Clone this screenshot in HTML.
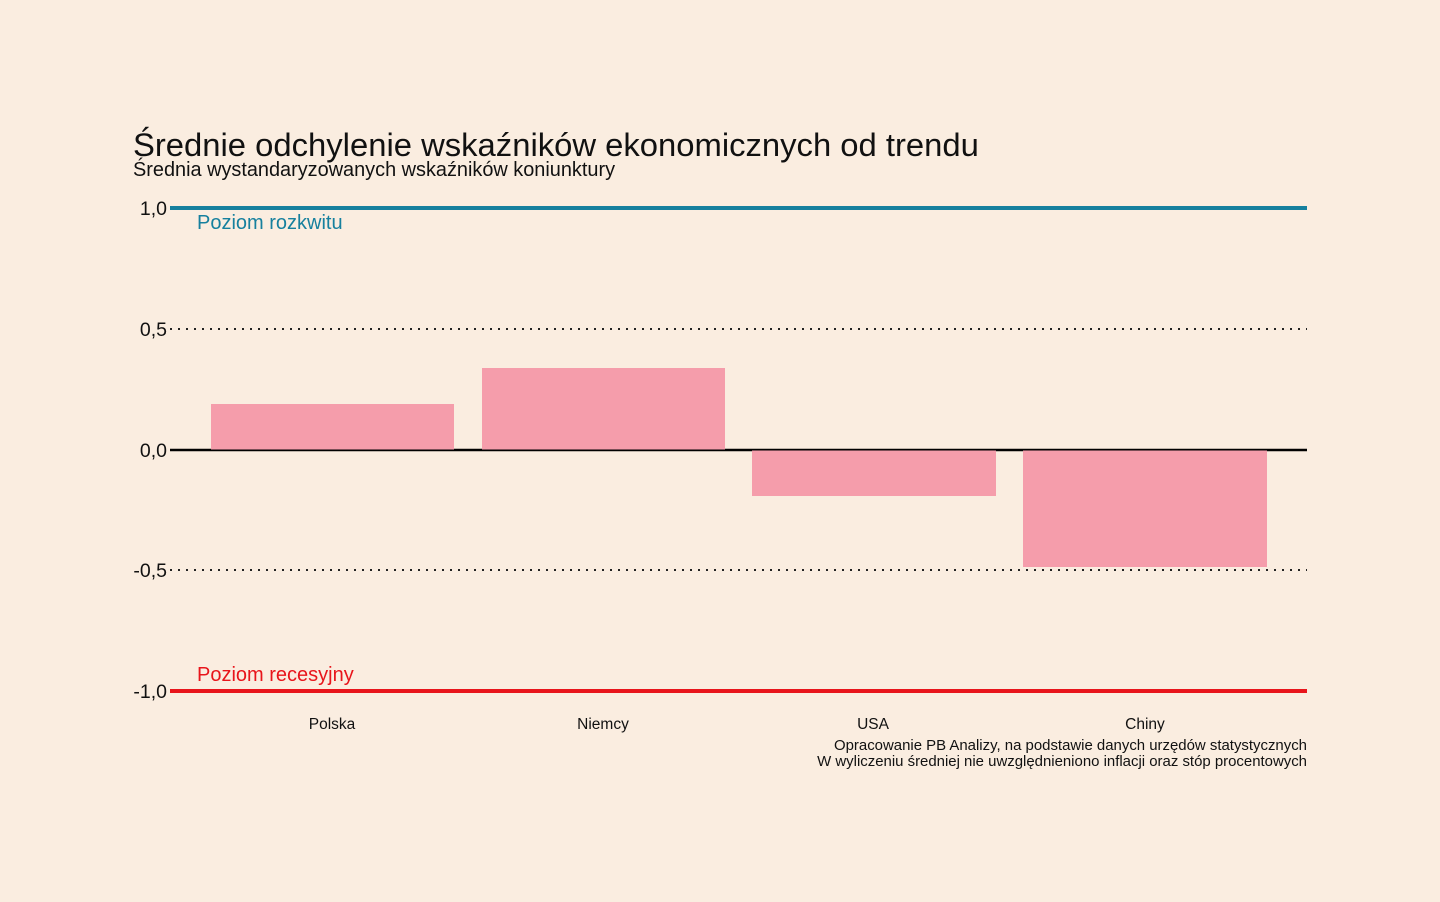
<!DOCTYPE html>
<html><head><meta charset="utf-8"><style>
body{margin:0;background:#faede0;}
svg{display:block;font-family:"Liberation Sans",sans-serif;}
</style></head><body>
<svg width="1440" height="902" viewBox="0 0 1440 902">
<rect width="1440" height="902" fill="#faede0"/>
<text x="133" y="156" font-size="32.8" fill="#111">Średnie odchylenie wskaźników ekonomicznych od trendu</text>
<text x="133" y="176" font-size="19.9" fill="#111">Średnia wystandaryzowanych wskaźników koniunktury</text>
<line x1="170" y1="329" x2="1307" y2="329" stroke="#222" stroke-width="2" stroke-dasharray="2,6"/>
<line x1="170" y1="570" x2="1307" y2="570" stroke="#222" stroke-width="2" stroke-dasharray="2,6"/>
<line x1="170" y1="450" x2="1307" y2="450" stroke="#000" stroke-width="2.5"/>
<rect x="211" y="404" width="243" height="46" fill="#f59dab"/>
<rect x="482" y="368" width="243" height="82" fill="#f59dab"/>
<rect x="752" y="450" width="244" height="46" fill="#f59dab"/>
<rect x="1023" y="450" width="244" height="117" fill="#f59dab"/>
<line x1="211" y1="450" x2="1267" y2="450" stroke="#000" stroke-width="1"/>
<line x1="170" y1="208" x2="1307" y2="208" stroke="#16809e" stroke-width="4"/>
<line x1="170" y1="691" x2="1307" y2="691" stroke="#e8151b" stroke-width="4"/>
<text x="197" y="229" font-size="20" fill="#16809e">Poziom rozkwitu</text>
<text x="197" y="681" font-size="20" fill="#e8151b">Poziom recesyjny</text>
<g font-size="19.5" fill="#111" text-anchor="end">
<text x="167" y="215">1,0</text>
<text x="167" y="336">0,5</text>
<text x="167" y="457">0,0</text>
<text x="167" y="577">-0,5</text>
<text x="167" y="698">-1,0</text>
</g>
<g font-size="15.5" fill="#111" text-anchor="middle">
<text x="332" y="729">Polska</text>
<text x="603" y="729">Niemcy</text>
<text x="873" y="729">USA</text>
<text x="1145" y="729">Chiny</text>
</g>
<g font-size="14.95" fill="#111" text-anchor="end">
<text x="1307" y="750">Opracowanie PB Analizy, na podstawie danych urzędów statystycznych</text>
<text x="1307" y="766">W wyliczeniu średniej nie uwzględnieniono inflacji oraz stóp procentowych</text>
</g>
</svg>
</body></html>
